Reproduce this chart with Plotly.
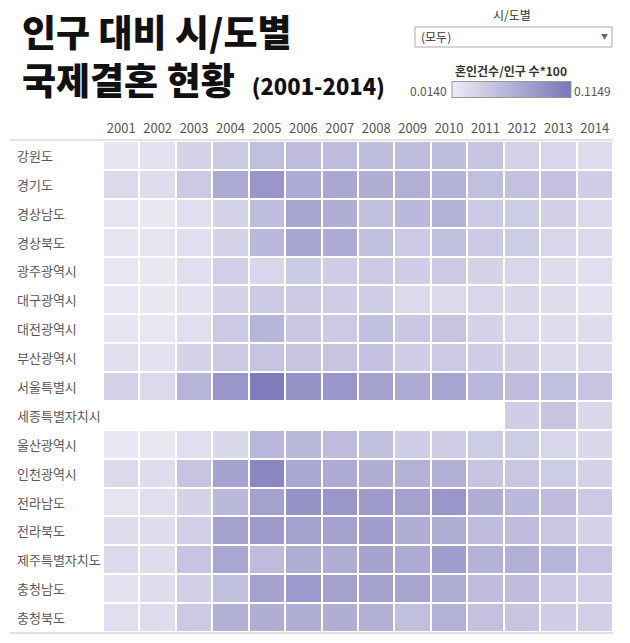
import plotly.graph_objects as go

years = [str(y) for y in range(2001, 2015)]
regions = ["강원도", "경기도", "경상남도", "경상북도", "광주광역시", "대구광역시", "대전광역시",
           "부산광역시", "서울특별시", "세종특별자치시", "울산광역시", "인천광역시", "전라남도",
           "전라북도", "제주특별자치도", "충청남도", "충청북도"]

v_gangwon = [0.019, 0.022, 0.035, 0.043, 0.052, 0.055, 0.055, 0.054, 0.053, 0.053, 0.048, 0.036, 0.032, 0.027]
v_gyeonggi = [0.029, 0.026, 0.043, 0.070, 0.087, 0.070, 0.072, 0.067, 0.065, 0.063, 0.052, 0.050, 0.050, 0.039]
v_gyeongnam = [0.020, 0.017, 0.024, 0.035, 0.054, 0.074, 0.067, 0.052, 0.057, 0.063, 0.043, 0.041, 0.037, 0.029]
v_gyeongbuk = [0.019, 0.020, 0.024, 0.035, 0.057, 0.074, 0.070, 0.052, 0.043, 0.052, 0.043, 0.041, 0.032, 0.029]
v_gwangju = [0.018, 0.017, 0.024, 0.037, 0.032, 0.042, 0.039, 0.043, 0.039, 0.043, 0.035, 0.032, 0.025, 0.024]
v_daegu = [0.018, 0.017, 0.022, 0.035, 0.043, 0.043, 0.039, 0.039, 0.029, 0.029, 0.032, 0.030, 0.025, 0.022]
v_daejeon = [0.019, 0.018, 0.024, 0.043, 0.061, 0.045, 0.043, 0.051, 0.045, 0.048, 0.035, 0.029, 0.025, 0.025]
v_busan = [0.024, 0.022, 0.035, 0.043, 0.048, 0.048, 0.048, 0.050, 0.039, 0.043, 0.039, 0.037, 0.029, 0.029]
v_seoul = [0.036, 0.029, 0.061, 0.087, 0.110, 0.091, 0.087, 0.078, 0.070, 0.074, 0.058, 0.055, 0.052, 0.048]
v_sejong = [None] * 11 + [0.039, 0.048, 0.030]
v_ulsan = [0.017, 0.017, 0.024, 0.030, 0.058, 0.057, 0.055, 0.052, 0.039, 0.039, 0.041, 0.041, 0.032, 0.030]
v_incheon = [0.029, 0.026, 0.048, 0.076, 0.100, 0.072, 0.070, 0.067, 0.064, 0.065, 0.048, 0.046, 0.041, 0.035]
v_jeonnam = [0.020, 0.024, 0.035, 0.057, 0.078, 0.090, 0.087, 0.083, 0.078, 0.087, 0.067, 0.057, 0.055, 0.043]
v_jeonbuk = [0.025, 0.025, 0.037, 0.078, 0.083, 0.078, 0.078, 0.080, 0.067, 0.067, 0.055, 0.055, 0.046, 0.035]
v_jeju = [0.029, 0.026, 0.048, 0.072, 0.055, 0.067, 0.067, 0.076, 0.070, 0.080, 0.063, 0.065, 0.061, 0.048]
v_chungnam = [0.022, 0.025, 0.037, 0.052, 0.078, 0.084, 0.078, 0.078, 0.074, 0.067, 0.055, 0.055, 0.043, 0.037]
v_chungbuk = [0.024, 0.026, 0.043, 0.065, 0.067, 0.067, 0.067, 0.065, 0.052, 0.064, 0.050, 0.048, 0.039, 0.037]

z = [v_gangwon, v_gyeonggi, v_gyeongnam, v_gyeongbuk, v_gwangju, v_daegu, v_daejeon, v_busan,
     v_seoul, v_sejong, v_ulsan, v_incheon, v_jeonnam, v_jeonbuk, v_jeju, v_chungnam, v_chungbuk]

zmin, zmax = 0.0140, 0.1149

W, H = 630, 643
ML, MR, MT, MB = 103, 17, 141, 11
PW, PH = W - ML - MR, H - MT - MB


def px(x):
    return (x - ML) / PW


def py(y):
    return (H - MB - y) / PH


FONT = "Noto Sans CJK KR"

fig = go.Figure(go.Heatmap(
    z=z, x=years, y=regions,
    zmin=zmin, zmax=zmax,
    colorscale=[[0, "#ecebf5"], [1, "#7a76b8"]],
    xgap=2, ygap=2, hoverongaps=False,
    colorbar=dict(
        orientation="h", lenmode="pixels", len=119, thickness=16,
        x=px(511), xanchor="center", y=py(90), yanchor="middle",
        xpad=0, ypad=0, outlinewidth=1, outlinecolor="#999999",
        showticklabels=False, ticks="",
    ),
))

annotations = []
for r in regions:
    annotations.append(dict(x=px(15), xref="paper", y=r, yref="y", text=r, showarrow=False,
                            xanchor="left", yanchor="middle",
                            font=dict(family=FONT, size=13, color="#595959")))

title_text = ("인구 대비 시/도별<br>국제결혼 현황\u00a0\u00a0"
              "<span style='font-size:22px'>(2001-2014)</span>")

annotations += [
    dict(x=px(20), y=py(55), xref="paper", yref="paper", text=title_text, showarrow=False,
         xanchor="left", yanchor="middle", align="left",
         font=dict(family=FONT, size=37, color="#111111", weight=900)),
    dict(x=px(512), y=py(15), xref="paper", yref="paper", text="시/도별", showarrow=False,
         xanchor="center", yanchor="middle", font=dict(family=FONT, size=12, color="#333333")),
    dict(x=px(419), y=py(37), xref="paper", yref="paper", text="(모두)", showarrow=False,
         xanchor="left", yanchor="middle", font=dict(family=FONT, size=12, color="#333333")),
    dict(x=px(604), y=py(36), xref="paper", yref="paper", text="▼", showarrow=False,
         xanchor="center", yanchor="middle", font=dict(family=FONT, size=7, color="#666666")),
    dict(x=px(511), y=py(70), xref="paper", yref="paper", text="혼인건수/인구 수*100", showarrow=False,
         xanchor="center", yanchor="middle", font=dict(family=FONT, size=12, color="#333333", weight=600)),
    dict(x=px(449), y=py(90), xref="paper", yref="paper", text="0.0140", showarrow=False,
         xanchor="right", yanchor="middle", font=dict(family=FONT, size=12, color="#555555")),
    dict(x=px(572), y=py(90), xref="paper", yref="paper", text="0.1149", showarrow=False,
         xanchor="left", yanchor="middle", font=dict(family=FONT, size=12, color="#555555")),
]

shapes = [
    dict(type="rect", xref="paper", yref="paper", x0=px(415), x1=px(612), y0=py(27), y1=py(47),
         line=dict(color="#aaaaaa", width=1), fillcolor="white"),
    dict(type="line", xref="paper", yref="paper", x0=px(10), x1=px(613), y0=py(140), y1=py(140),
         line=dict(color="#d9d9d9", width=1.5)),
    dict(type="line", xref="paper", yref="paper", x0=px(10), x1=px(613), y0=py(633), y1=py(633),
         line=dict(color="#d9d9d9", width=1.5)),
]

fig.update_layout(
    width=W, height=H,
    margin=dict(l=ML, r=MR, t=MT, b=MB, pad=0),
    paper_bgcolor="white", plot_bgcolor="white",
    font=dict(family=FONT),
    xaxis=dict(side="top", showgrid=False, zeroline=False, ticks="", ticklen=0,
               ticklabelstandoff=4,
               tickfont=dict(family=FONT, size=13, color="#555555")),
    yaxis=dict(autorange="reversed", showgrid=False, zeroline=False, showticklabels=False, ticks=""),
    annotations=annotations,
    shapes=shapes,
)

fig.write_html("out.html")
